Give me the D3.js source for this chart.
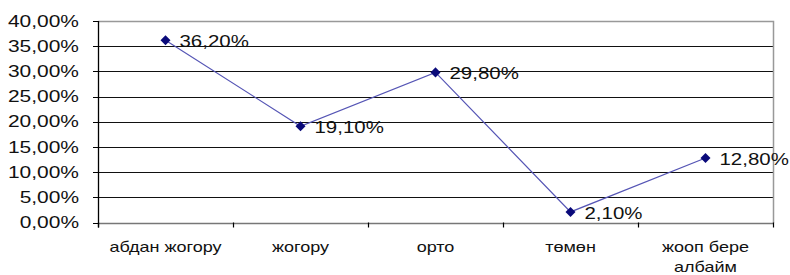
<!DOCTYPE html>
<html>
<head>
<meta charset="utf-8">
<script src="https://cdn.jsdelivr.net/npm/d3@7"></script>
<style>
  html, body { margin: 0; padding: 0; background: #fff; }
  svg { display: block; }
  text { font-family: "Liberation Sans", Arial, sans-serif; fill: #111; }
</style>
</head>
<body>
<svg id="chart" width="790" height="275"></svg>
<script>
const categories = ["абдан жогору", "жогору", "орто", "төмөн", "жооп бере албайм"];
const categoryLines = [["абдан жогору"], ["жогору"], ["орто"], ["төмөн"], ["жооп бере", "албайм"]];
const values = [36.2, 19.1, 29.8, 2.1, 12.8];
const yTicks = [0, 5, 10, 15, 20, 25, 30, 35, 40];
const fmt = v => v.toFixed(2).replace(".", ",") + "%";

const svg = d3.select("#chart");
const margin = { left: 98, right: 17, top: 21, bottom: 52.5 };
const W = 790, H = 275;
const x = d3.scaleBand().domain(categories).range([margin.left, W - margin.right]).padding(0);
const y = d3.scaleLinear().domain([0, 40]).range([H - margin.bottom, margin.top]);
const SX = 1.27;

// gridlines
svg.append("g").selectAll("line").data(yTicks.filter(t => t > 0 && t < 40)).join("line")
  .attr("x1", margin.left).attr("x2", W - margin.right)
  .attr("y1", d => Math.round(y(d)) + 0.5).attr("y2", d => Math.round(y(d)) + 0.5)
  .attr("stroke", "#111").attr("stroke-width", 1.2);

// plot border (top and right)
svg.append("path")
  .attr("d", `M${margin.left},${Math.round(y(40)) + 0.5}H${Math.round(W - margin.right) + 0.5}V${Math.round(y(0))}`)
  .attr("fill", "none").attr("stroke", "#999").attr("stroke-width", 1.5);

// x axis line
svg.append("line")
  .attr("x1", margin.left).attr("x2", W - margin.right)
  .attr("y1", Math.round(y(0)) + 0.5).attr("y2", Math.round(y(0)) + 0.5)
  .attr("stroke", "#777").attr("stroke-width", 1.5);

// y axis line and ticks
const yAxisG = svg.append("g");
yAxisG.append("line")
  .attr("x1", margin.left + 0.5).attr("x2", margin.left + 0.5)
  .attr("y1", y(40)).attr("y2", y(0) + 5)
  .attr("stroke", "#000").attr("stroke-width", 1.3);
yAxisG.selectAll("line.tk").data(yTicks).join("line").attr("class", "tk")
  .attr("x1", margin.left - 5).attr("x2", margin.left)
  .attr("y1", d => Math.round(y(d)) + 0.5).attr("y2", d => Math.round(y(d)) + 0.5)
  .attr("stroke", "#000");
yAxisG.selectAll("text").data(yTicks).join("text")
  .attr("transform", d => `translate(79,${y(d)}) scale(${SX},1)`)
  .attr("text-anchor", "end").attr("dominant-baseline", "central")
  .attr("font-size", 16.5).attr("fill", "#2a2a2a")
  .text(fmt);

// x ticks at category boundaries
const bounds = categories.map(c => x(c)).concat([x(categories[categories.length - 1]) + x.bandwidth()]);
svg.append("g").selectAll("line").data(bounds).join("line")
  .attr("x1", d => Math.round(d) + 0.5).attr("x2", d => Math.round(d) + 0.5)
  .attr("y1", y(0)).attr("y2", y(0) + 5)
  .attr("stroke", "#000").attr("stroke-width", 1.2);

// x labels
const xl = svg.append("g").selectAll("g").data(categories).join("g")
  .attr("transform", d => `translate(${x(d) + x.bandwidth() / 2},247) scale(${SX},1)`);
xl.each(function(d, i) {
  d3.select(this).selectAll("text").data(categoryLines[i]).join("text")
    .attr("y", (t, j) => j * 19.5)
    .attr("text-anchor", "middle").attr("dominant-baseline", "central")
    .attr("font-size", 14.2).attr("fill", "#2a2a2a")
    .text(t => t);
});

// line
const pts = categories.map((c, i) => [x(c) + x.bandwidth() / 2, y(values[i])]);
svg.append("path").datum(pts)
  .attr("d", d3.line())
  .attr("fill", "none").attr("stroke", "#5555b5").attr("stroke-width", 1.2);

// markers
svg.append("g").selectAll("path").data(pts).join("path")
  .attr("transform", d => `translate(${d[0]},${d[1]})`)
  .attr("d", d3.symbol(d3.symbolDiamond2, 64))
  .attr("fill", "#0a0a7a");

// data labels
svg.append("g").selectAll("text").data(pts).join("text")
  .attr("transform", (d, i) => `translate(${d[0] + 14},${d[1] + 1}) scale(1.24,1)`)
  .attr("dominant-baseline", "central")
  .attr("font-size", 16.5).attr("fill", "#1a1a1a")
  .text((d, i) => fmt(values[i]));
</script>
</body>
</html>
